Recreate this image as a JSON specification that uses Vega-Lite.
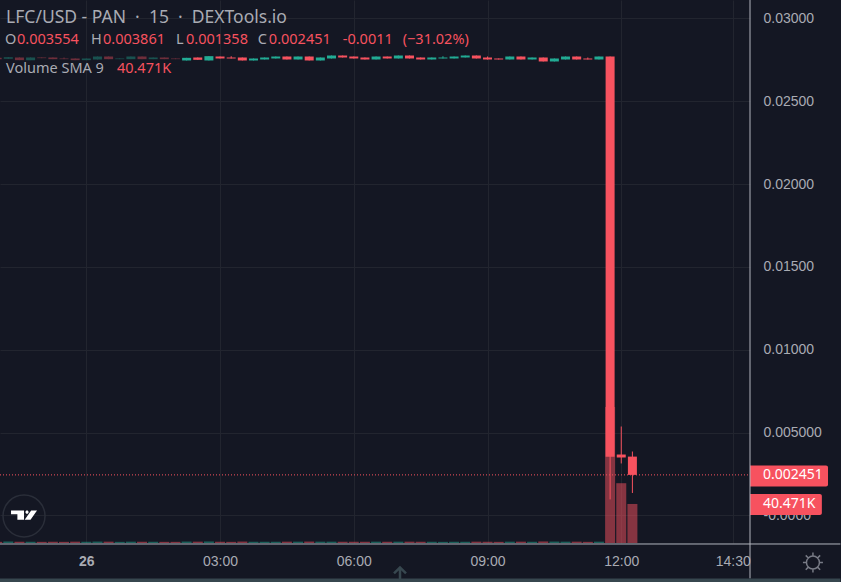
{
  "$schema": "https://vega.github.io/schema/vega-lite/v6.json",
  "width": 750,
  "height": 543,
  "autosize": "none",
  "padding": {"left": 0, "top": 0, "right": 91, "bottom": 39},
  "background": "#141723",
  "datasets": {
    "candles": [
      {"t": "2022-03-25T22:00:00Z", "o": 0.02762, "h": 0.02762, "l": 0.02754, "c": 0.02754, "v": 1200},
      {"t": "2022-03-25T22:15:00Z", "o": 0.02756, "h": 0.02766, "l": 0.02756, "c": 0.02766, "v": 1500},
      {"t": "2022-03-25T22:30:00Z", "o": 0.02764, "h": 0.02764, "l": 0.02748, "c": 0.02748, "v": 1300},
      {"t": "2022-03-25T22:45:00Z", "o": 0.02748, "h": 0.02764, "l": 0.02748, "c": 0.02764, "v": 1400},
      {"t": "2022-03-25T23:00:00Z", "o": 0.02764, "h": 0.02764, "l": 0.0276, "c": 0.0276, "v": 1200},
      {"t": "2022-03-25T23:15:00Z", "o": 0.02764, "h": 0.02764, "l": 0.02754, "c": 0.02754, "v": 1300},
      {"t": "2022-03-25T23:30:00Z", "o": 0.02758, "h": 0.02764, "l": 0.02754, "c": 0.02754, "v": 1200},
      {"t": "2022-03-25T23:45:00Z", "o": 0.02758, "h": 0.02758, "l": 0.02748, "c": 0.02748, "v": 1400},
      {"t": "2022-03-26T00:00:00Z", "o": 0.02748, "h": 0.02758, "l": 0.02748, "c": 0.02758, "v": 1300},
      {"t": "2022-03-26T00:15:00Z", "o": 0.02752, "h": 0.0277, "l": 0.02752, "c": 0.0277, "v": 1500},
      {"t": "2022-03-26T00:30:00Z", "o": 0.0277, "h": 0.0277, "l": 0.02754, "c": 0.02754, "v": 1400},
      {"t": "2022-03-26T00:45:00Z", "o": 0.02754, "h": 0.02758, "l": 0.02754, "c": 0.02758, "v": 1200},
      {"t": "2022-03-26T01:00:00Z", "o": 0.02754, "h": 0.0277, "l": 0.02754, "c": 0.0277, "v": 1400},
      {"t": "2022-03-26T01:15:00Z", "o": 0.0277, "h": 0.0277, "l": 0.02754, "c": 0.02754, "v": 1300},
      {"t": "2022-03-26T01:30:00Z", "o": 0.02754, "h": 0.02764, "l": 0.02754, "c": 0.02764, "v": 1300},
      {"t": "2022-03-26T01:45:00Z", "o": 0.02764, "h": 0.02764, "l": 0.02754, "c": 0.02754, "v": 1200},
      {"t": "2022-03-26T02:00:00Z", "o": 0.02758, "h": 0.02758, "l": 0.02754, "c": 0.02754, "v": 1200},
      {"t": "2022-03-26T02:15:00Z", "o": 0.02746, "h": 0.02762, "l": 0.02746, "c": 0.02762, "v": 1500},
      {"t": "2022-03-26T02:30:00Z", "o": 0.02764, "h": 0.02764, "l": 0.0275, "c": 0.0275, "v": 1400},
      {"t": "2022-03-26T02:45:00Z", "o": 0.02746, "h": 0.02772, "l": 0.02746, "c": 0.02772, "v": 1600},
      {"t": "2022-03-26T03:00:00Z", "o": 0.0277, "h": 0.0277, "l": 0.02758, "c": 0.02758, "v": 1300},
      {"t": "2022-03-26T03:15:00Z", "o": 0.02764, "h": 0.02772, "l": 0.02758, "c": 0.02758, "v": 1200},
      {"t": "2022-03-26T03:30:00Z", "o": 0.02764, "h": 0.02764, "l": 0.02746, "c": 0.02746, "v": 1500},
      {"t": "2022-03-26T03:45:00Z", "o": 0.02746, "h": 0.02758, "l": 0.02746, "c": 0.02758, "v": 1300},
      {"t": "2022-03-26T04:00:00Z", "o": 0.02752, "h": 0.02764, "l": 0.02752, "c": 0.02764, "v": 1300},
      {"t": "2022-03-26T04:15:00Z", "o": 0.02758, "h": 0.0277, "l": 0.02758, "c": 0.0277, "v": 1300},
      {"t": "2022-03-26T04:30:00Z", "o": 0.0277, "h": 0.0277, "l": 0.02752, "c": 0.02752, "v": 1400},
      {"t": "2022-03-26T04:45:00Z", "o": 0.02752, "h": 0.0277, "l": 0.02752, "c": 0.0277, "v": 1400},
      {"t": "2022-03-26T05:00:00Z", "o": 0.0277, "h": 0.0277, "l": 0.02746, "c": 0.02746, "v": 1500},
      {"t": "2022-03-26T05:15:00Z", "o": 0.02746, "h": 0.02764, "l": 0.02746, "c": 0.02764, "v": 1400},
      {"t": "2022-03-26T05:30:00Z", "o": 0.02758, "h": 0.02776, "l": 0.02758, "c": 0.02776, "v": 1400},
      {"t": "2022-03-26T05:45:00Z", "o": 0.02776, "h": 0.02776, "l": 0.02764, "c": 0.02764, "v": 1300},
      {"t": "2022-03-26T06:00:00Z", "o": 0.0277, "h": 0.0277, "l": 0.02758, "c": 0.02758, "v": 1300},
      {"t": "2022-03-26T06:15:00Z", "o": 0.02764, "h": 0.02764, "l": 0.02752, "c": 0.02752, "v": 1300},
      {"t": "2022-03-26T06:30:00Z", "o": 0.02752, "h": 0.0277, "l": 0.02752, "c": 0.0277, "v": 1400},
      {"t": "2022-03-26T06:45:00Z", "o": 0.0277, "h": 0.0277, "l": 0.02758, "c": 0.02758, "v": 1300},
      {"t": "2022-03-26T07:00:00Z", "o": 0.02758, "h": 0.02776, "l": 0.02758, "c": 0.02776, "v": 1400},
      {"t": "2022-03-26T07:15:00Z", "o": 0.02776, "h": 0.02776, "l": 0.02758, "c": 0.02758, "v": 1400},
      {"t": "2022-03-26T07:30:00Z", "o": 0.02764, "h": 0.02764, "l": 0.02752, "c": 0.02752, "v": 1300},
      {"t": "2022-03-26T07:45:00Z", "o": 0.02752, "h": 0.02764, "l": 0.02752, "c": 0.02764, "v": 1300},
      {"t": "2022-03-26T08:00:00Z", "o": 0.02758, "h": 0.02772, "l": 0.02758, "c": 0.02764, "v": 1200},
      {"t": "2022-03-26T08:15:00Z", "o": 0.02758, "h": 0.0277, "l": 0.02758, "c": 0.0277, "v": 1300},
      {"t": "2022-03-26T08:30:00Z", "o": 0.02764, "h": 0.02776, "l": 0.02764, "c": 0.02776, "v": 1300},
      {"t": "2022-03-26T08:45:00Z", "o": 0.02776, "h": 0.02776, "l": 0.02758, "c": 0.02758, "v": 1400},
      {"t": "2022-03-26T09:00:00Z", "o": 0.02764, "h": 0.0277, "l": 0.02752, "c": 0.02752, "v": 1300},
      {"t": "2022-03-26T09:15:00Z", "o": 0.02758, "h": 0.02758, "l": 0.02752, "c": 0.02752, "v": 1200},
      {"t": "2022-03-26T09:30:00Z", "o": 0.02752, "h": 0.0277, "l": 0.02752, "c": 0.0277, "v": 1400},
      {"t": "2022-03-26T09:45:00Z", "o": 0.0277, "h": 0.0277, "l": 0.02752, "c": 0.02752, "v": 1400},
      {"t": "2022-03-26T10:00:00Z", "o": 0.02752, "h": 0.02764, "l": 0.02752, "c": 0.02764, "v": 1300},
      {"t": "2022-03-26T10:15:00Z", "o": 0.02764, "h": 0.02764, "l": 0.0274, "c": 0.0274, "v": 1600},
      {"t": "2022-03-26T10:30:00Z", "o": 0.0274, "h": 0.02758, "l": 0.0274, "c": 0.02758, "v": 1500},
      {"t": "2022-03-26T10:45:00Z", "o": 0.02752, "h": 0.0277, "l": 0.02752, "c": 0.0277, "v": 1400},
      {"t": "2022-03-26T11:00:00Z", "o": 0.0277, "h": 0.0277, "l": 0.02752, "c": 0.02752, "v": 1400},
      {"t": "2022-03-26T11:15:00Z", "o": 0.02758, "h": 0.02764, "l": 0.02752, "c": 0.02752, "v": 1200},
      {"t": "2022-03-26T11:30:00Z", "o": 0.02752, "h": 0.0277, "l": 0.02752, "c": 0.0277, "v": 1400},
      {"t": "2022-03-26T11:45:00Z", "o": 0.0277, "h": 0.0277, "l": 0.00097, "c": 0.00355, "v": 141000},
      {"t": "2022-03-26T12:00:00Z", "o": 0.00368, "h": 0.00537, "l": 0.00314, "c": 0.0035, "v": 62000},
      {"t": "2022-03-26T12:15:00Z", "o": 0.003554, "h": 0.003861, "l": 0.001358, "c": 0.002451, "v": 40471}
    ],
    "legendText": [
      {"t": "2022-03-25T22:12:00Z", "p": 0.03005, "text": "LFC/USD - PAN \u00a0·\u00a0 15 \u00a0·\u00a0 DEXTools.io", "tone": "muted", "size": "big"},
      {"t": "2022-03-25T22:10:30Z", "p": 0.02867, "text": "O", "tone": "muted", "size": "small"},
      {"t": "2022-03-25T22:26:40Z", "p": 0.02867, "text": "0.003554", "tone": "red", "size": "small"},
      {"t": "2022-03-26T00:06:20Z", "p": 0.02867, "text": "H", "tone": "muted", "size": "small"},
      {"t": "2022-03-26T00:22:30Z", "p": 0.02867, "text": "0.003861", "tone": "red", "size": "small"},
      {"t": "2022-03-26T02:00:40Z", "p": 0.02867, "text": "L", "tone": "muted", "size": "small"},
      {"t": "2022-03-26T02:14:10Z", "p": 0.02867, "text": "0.001358", "tone": "red", "size": "small"},
      {"t": "2022-03-26T03:50:50Z", "p": 0.02867, "text": "C", "tone": "muted", "size": "small"},
      {"t": "2022-03-26T04:05:40Z", "p": 0.02867, "text": "0.002451", "tone": "red", "size": "small"},
      {"t": "2022-03-26T05:45:10Z", "p": 0.02867, "text": "-0.0011", "tone": "red", "size": "small"},
      {"t": "2022-03-26T07:05:50Z", "p": 0.02867, "text": "(−31.02%)", "tone": "red", "size": "small"},
      {"t": "2022-03-25T22:12:00Z", "p": 0.02692, "text": "Volume SMA 9", "tone": "muted", "size": "small"},
      {"t": "2022-03-26T00:41:10Z", "p": 0.02692, "text": "40.471K", "tone": "red", "size": "small"}
    ]
  },
  "encoding": {
    "x": {
      "field": "t",
      "type": "temporal",
      "scale": {"type": "utc", "padding": 0, "domain": ["2022-03-25T22:03:50Z", "2022-03-26T14:53:17Z"]},
      "title": null,
      "axis": {
        "values": ["2022-03-26T00:00:00Z", "2022-03-26T03:00:00Z", "2022-03-26T06:00:00Z", "2022-03-26T09:00:00Z", "2022-03-26T12:00:00Z", "2022-03-26T14:30:00Z"],
        "format": "%H:%M",
        "labelExpr": "datum.label == '00:00' ? '26' : datum.label",
        "labelFontWeight": {"condition": {"test": "datum.label == '00:00'", "value": "bold"}, "value": "normal"},
        "labelColor": "#a9abb3",
        "labelFontSize": 14,
        "labelPadding": 11,
        "labelOverlap": false,
        "labelFlush": false,
        "ticks": false,
        "domain": false,
        "grid": true,
        "gridColor": "#22252f"
      }
    }
  },
  "layer": [
    {
      "layer": [
        {
          "data": {"name": "candles"},
          "mark": {"type": "bar", "width": 10, "opacity": 0.5},
          "encoding": {
            "y": {"field": "v", "type": "quantitative", "scale": {"domain": [0, 563000], "nice": false}, "axis": null},
            "color": {"condition": {"test": "datum.c < datum.o", "value": "#f7525f"}, "value": "#22ab94"}
          }
        },
        {
          "data": {"values": [{"t": "2022-03-26T14:53:17Z", "t2": "2022-03-26T16:30:00Z", "v0": 29000, "v1": 50800}]},
          "mark": {"type": "rect", "color": "#f7525f", "cornerRadiusTopRight": 2, "cornerRadiusBottomRight": 2},
          "encoding": {
            "x2": {"field": "t2"},
            "y": {"field": "v0", "type": "quantitative"},
            "y2": {"field": "v1"}
          }
        },
        {
          "data": {"values": [{"t": "2022-03-26T15:10:45Z", "v": 40471, "text": "40.471K"}]},
          "mark": {"type": "text", "align": "left", "baseline": "middle", "color": "#ffffff", "fontSize": 14, "font": "Noto Sans"},
          "encoding": {
            "y": {"field": "v", "type": "quantitative"},
            "text": {"field": "text"}
          }
        }
      ]
    },
    {
      "layer": [
        {
          "data": {"values": [{"t": "2022-03-25T22:03:50Z", "t2": "2022-03-26T14:53:17Z", "p": 0.002451}]},
          "mark": {"type": "rule", "color": "#f7525f", "strokeDash": [1, 2]},
          "encoding": {
            "x2": {"field": "t2"},
            "y": {
              "field": "p",
              "type": "quantitative",
              "scale": {"domain": [-0.00166, 0.03111], "nice": false},
              "title": null,
              "axis": {
                "orient": "right",
                "values": [0, 0.005, 0.01, 0.015, 0.02, 0.025, 0.03],
                "labelExpr": "datum.value == 0 ? '-0.0000' : datum.value == 0.005 ? '0.005000' : format(datum.value, '.5f')",
                "labelColor": "#a9abb3",
                "labelFontSize": 14,
                "labelPadding": 13,
                "labelOverlap": false,
                "labelBound": false,
                "ticks": false,
                "domain": false,
                "grid": true,
                "gridColor": "#22252f"
              }
            }
          }
        },
        {
          "data": {"name": "candles"},
          "mark": {"type": "rule"},
          "encoding": {
            "y": {"field": "l", "type": "quantitative"},
            "y2": {"field": "h"},
            "color": {"condition": {"test": "datum.c < datum.o", "value": "#f7525f"}, "value": "#22ab94"}
          }
        },
        {
          "data": {"name": "candles"},
          "mark": {"type": "bar", "width": 9},
          "encoding": {
            "y": {"field": "o", "type": "quantitative"},
            "y2": {"field": "c"},
            "color": {"condition": {"test": "datum.c < datum.o", "value": "#f7525f"}, "value": "#22ab94"}
          }
        },
        {
          "data": {"values": [{"t": "2022-03-25T22:03:50Z", "t2": "2022-03-26T02:06:07Z", "p": 0.02806, "p2": 0.0271}]},
          "mark": {"type": "rect", "color": "#141723", "opacity": 0.6},
          "encoding": {
            "x2": {"field": "t2"},
            "y": {"field": "p", "type": "quantitative"},
            "y2": {"field": "p2"}
          }
        },
        {
          "data": {"values": [{"t": "2022-03-26T14:53:17Z", "t2": "2022-03-26T16:38:17Z", "p": 0.00302, "p2": 0.00175}]},
          "mark": {"type": "rect", "color": "#f7525f", "cornerRadiusTopRight": 2, "cornerRadiusBottomRight": 2},
          "encoding": {
            "x2": {"field": "t2"},
            "y": {"field": "p", "type": "quantitative"},
            "y2": {"field": "p2"}
          }
        },
        {
          "data": {"values": [{"t": "2022-03-26T15:10:45Z", "p": 0.002451, "text": "0.002451"}]},
          "mark": {"type": "text", "align": "left", "baseline": "middle", "color": "#ffffff", "fontSize": 14, "font": "Noto Sans"},
          "encoding": {
            "y": {"field": "p", "type": "quantitative"},
            "text": {"field": "text"}
          }
        },
        {
          "data": {"name": "legendText"},
          "mark": {"type": "text", "align": "left", "baseline": "middle", "font": "Noto Sans"},
          "encoding": {
            "y": {"field": "p", "type": "quantitative"},
            "text": {"field": "text"},
            "color": {"field": "tone", "type": "nominal", "scale": {"domain": ["muted", "red"], "range": ["#a9abb3", "#f7525f"]}, "legend": null},
            "size": {"field": "size", "type": "nominal", "scale": {"domain": ["big", "small"], "range": [17.5, 14.5]}, "legend": null}
          }
        },
        {
          "data": {"values": [{"t": "2022-03-26T14:53:17Z", "p": 0.03111, "p2": -0.0038}]},
          "mark": {"type": "rule", "color": "#b2b5be", "strokeWidth": 1},
          "encoding": {
            "y": {"field": "p", "type": "quantitative"},
            "y2": {"field": "p2"}
          }
        },
        {
          "data": {"values": [{"t": "2022-03-25T22:03:50Z", "t2": "2022-03-26T16:55:00Z", "p": -0.00172}]},
          "mark": {"type": "rule", "color": "#b2b5be", "strokeWidth": 1},
          "encoding": {
            "x2": {"field": "t2"},
            "y": {"field": "p", "type": "quantitative"}
          }
        },
        {
          "data": {"values": [{"t": "2022-03-25T22:03:50Z", "t2": "2022-03-26T16:55:00Z", "p": -0.0038, "p2": -0.0042}]},
          "mark": {"type": "rect", "color": "#37474f"},
          "encoding": {
            "x2": {"field": "t2"},
            "y": {"field": "p", "type": "quantitative"},
            "y2": {"field": "p2"}
          }
        },
        {
          "data": {"values": [{"t": "2022-03-25T22:36:10Z", "p": -0.00003}]},
          "mark": {"type": "point", "shape": "circle", "size": 1764, "filled": false, "color": "#2a2e39", "strokeWidth": 1.5, "opacity": 1},
          "encoding": {"y": {"field": "p", "type": "quantitative"}}
        },
        {
          "data": {"values": [{"t": "2022-03-25T22:36:10Z", "p": 0.00003}]},
          "mark": {"type": "point", "filled": true, "color": "#ffffff", "opacity": 1, "size": 676, "shape": "M-1,-0.35H0V0.37H-0.51V-0.06H-1Z M0.11,-0.22A0.12,0.12 0 1 0 0.35,-0.22A0.12,0.12 0 1 0 0.11,-0.22Z M0.55,-0.35H1L0.5,0.37H0.05Z"},
          "encoding": {"y": {"field": "p", "type": "quantitative"}}
        },
        {
          "data": {"values": [{"t": "2022-03-26T16:18:00Z", "p": -0.00284}]},
          "mark": {"type": "point", "filled": false, "color": "#787b86", "opacity": 1, "strokeWidth": 1.5, "size": 400, "shape": "M-0.65,0A0.65,0.65 0 1 0 0.65,0A0.65,0.65 0 1 0 -0.65,0Z M0,-0.65V-1 M0,0.65V1 M-0.65,0H-1 M0.65,0H1 M-0.46,-0.46L-0.72,-0.72 M0.46,-0.46L0.72,-0.72 M-0.46,0.46L-0.72,0.72 M0.46,0.46L0.72,0.72"},
          "encoding": {"y": {"field": "p", "type": "quantitative"}}
        },
        {
          "data": {"values": [{"t": "2022-03-26T07:02:13Z", "p": -0.0035}]},
          "mark": {"type": "point", "filled": false, "color": "#37474f", "opacity": 1, "strokeWidth": 2.5, "size": 144, "shape": "M0,1V-0.9M-1,0L0,-1L1,0"},
          "encoding": {"y": {"field": "p", "type": "quantitative"}}
        }
      ]
    }
  ],
  "resolve": {"scale": {"y": "independent"}},
  "config": {"view": {"stroke": null}}
}
